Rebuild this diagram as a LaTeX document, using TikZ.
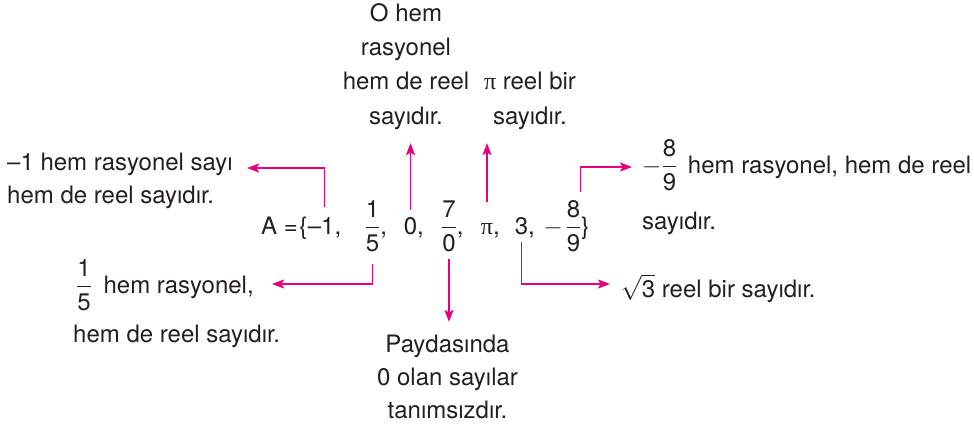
\documentclass[tikz,border=0pt]{standalone}
\usepackage{amsmath}
\usepackage{fontspec}
\setmainfont{TeX Gyre Heros}
\newfontfamily\pifont{Liberation Serif}
\usetikzlibrary{arrows.meta}
\definecolor{arrowpink}{HTML}{E6007E}
\definecolor{ink}{HTML}{231F20}
\begin{document}
\begin{tikzpicture}[x=1pt,y=-1pt,
  every node/.style={inner sep=0pt, text=ink, font=\fontsize{24}{34.3}\selectfont},
  arr/.style={draw=arrowpink, line width=1.3pt, -{Stealth[length=12pt,width=9pt,inset=2.5pt]}},
  lbl/.style={align=center, anchor=base}]
\useasboundingbox (0,0) rectangle (974,432);
% main set
\node[anchor=base west] (mA) at (261,234) {A =\kern1.5pt\{};
\node[anchor=base west] (m1) at (mA.base east) {–1,};
\node[anchor=base] (m2) at (372.5,234) {$\dfrac{\text{1}}{\text{5}}$\rlap{,}};
\node[anchor=base] (m3) at (410.5,234) {0\rlap{,}};
\node[anchor=base] (m4) at (449,234) {$\dfrac{\text{7}}{\text{0}}$\rlap{,}};
\node[anchor=base] (m5) at (487,234) {{\pifont π}\rlap{,}};
\node[anchor=base] (m6) at (521.5,234) {3\rlap{,}};
\node[anchor=base] (m7) at (573.5,234) {\llap{$-$\hspace{3pt}}$\dfrac{\text{8}}{\text{9}}$\rlap{\}}};
% labels (base = last line)
\node[lbl] (tTop) at (406,124) {O hem\\rasyonel\\hem de reel\\sayıdır.};
\node[lbl] (tPi) at (530,124) {{\pifont π} reel bir\\sayıdır.};
\node[anchor=base west, align=left, font=\fontsize{24}{32.5}\selectfont] (tL1) at (7,203) {–1 hem rasyonel sayı\\hem de reel sayıdır.};
\node[anchor=base west] (tL2) at (76,293) {$\dfrac{\text{1}}{\text{5}}$\hspace{5pt} hem rasyonel,};
\node[anchor=base west] (tL3) at (73,342) {hem de reel sayıdır.};
\node[lbl, font=\fontsize{24}{32.7}\selectfont] (tBot) at (447.5,418) {Paydasında\\0 olan sayılar\\tanımsızdır.};
\node[anchor=base west] (tR1) at (642,173) {$-\dfrac{\text{8}}{\text{9}}$\hspace{4pt} hem rasyonel, hem de reel};
\node[anchor=base west] (tR2) at (642,229) {sayıdır.};
\node[anchor=base west] (tR3) at (621,297) {$\sqrt{\text{3}}$ reel bir sayıdır.};
% arrow ends
\coordinate (c1) at (247,168);
\coordinate (c2) at (272,284);
\coordinate (c6) at (610,284);
\coordinate (c7) at (632,167);
% arrows
\draw[arr, shorten <=10pt] (m1.north) |- (c1);
\draw[arr, shorten <=7pt, shorten >=13.7pt] (m3.north) -- (m3.north |- tTop.south);
\draw[arr, shorten <=21pt, shorten >=13.7pt] (m5.north) -- (m5.north |- tPi.south);
\draw[arr, shorten <=8pt] ([xshift=7pt]m7.north) |- (c7);
\draw[arr, shorten <=12pt] (m2.south) |- (c2);
\draw[arr, shorten <=7pt, shorten >=13pt] (m4.south) -- (m4.south |- tBot.north);
\draw[arr, shorten <=4.5pt] (m6.south) |- (c6);
\end{tikzpicture}
\end{document}
